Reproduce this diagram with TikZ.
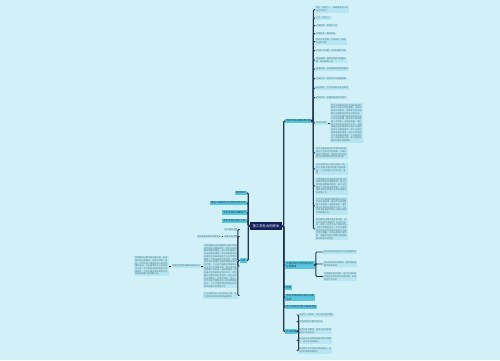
\documentclass[tikz,border=0pt]{standalone}
\usepackage{fontspec}
\usepackage{tikz}
\usepackage{xcolor}
\newfontfamily\cjk{Noto Sans CJK SC}
\XeTeXlinebreaklocale "zh"
\XeTeXlinebreakskip=0pt plus 0.2pt
\usetikzlibrary{positioning}
\definecolor{paper}{HTML}{D1F0F8}
\definecolor{leafcyan}{HTML}{B6E6F1}
\definecolor{branchcyan}{HTML}{58C6DD}
\definecolor{rootnavy}{HTML}{14235C}
\definecolor{linknavy}{HTML}{24344F}
\definecolor{ink}{HTML}{1D3550}
\definecolor{inkgray}{HTML}{56707E}
% long clauses used in the text boxes
\newcommand{\txtpay}{甲方应按照合同约定的时间和标准向乙方支付劳务报酬，不得无故拖欠或克扣，逾期支付的应按银行同期贷款利率支付违约金。}
\newcommand{\txtsafe}{乙方应严格遵守国家有关安全生产的法律法规，服从甲方现场管理人员的统一安排和指挥，做好施工现场的安全防护工作。}
\newcommand{\txtqual}{工程质量应符合国家现行施工验收规范及设计图纸要求，因乙方原因造成质量问题的，由乙方负责返工并承担相应费用。}
\newcommand{\txtdisp}{合同履行过程中发生争议的，双方应友好协商解决；协商不成的，任何一方均可向工程所在地人民法院提起诉讼。}
\newcommand{\txtstaff}{乙方进场作业人员应持证上岗，并为其购买相应的意外伤害保险。}
\newcommand{\txtsub}{乙方不得将承接的劳务作业转包或再分包给第三方。}
\tikzset{
  rootcard/.style={fill=rootnavy,text=white,inner sep=1.2pt,
                   minimum width=18pt,minimum height=4pt,
                   font=\cjk\fontsize{1.9}{2.3}\selectfont},
  branchcard/.style={fill=branchcyan,text=ink,inner sep=0.6pt,align=left,
                     font=\cjk\fontsize{1.4}{1.8}\selectfont},
  leafcard/.style={fill=leafcyan,text=inkgray,inner sep=0.5pt,align=left,
                   font=\cjk\fontsize{1.2}{1.55}\selectfont},
  textcard/.style={leafcard,text width=17.7pt},
  widecard/.style={leafcard,text width=18.8pt},
  link/.style={draw=linknavy,line width=0.55pt,rounded corners=0.6pt},
  mainlink/.style={draw=linknavy,line width=0.75pt,rounded corners=0.6pt}
}
\begin{document}
\begin{tikzpicture}[x=0.02cm,y=-0.02cm]
  \fill[paper] (0,0) rectangle (500,360);
  \path[use as bounding box] (0,0) rectangle (500,360);
  % root
  \node[rootcard] (root) at (266,226) {施工劳务合同样本};
  % right branches
  \node[branchcard,anchor=west] (r1) at (285,121) {劳务合同主要条款内容};
  \node[branchcard,anchor=west] (r2) at (285,265) {工程劳务分包合同的签订\\注意事项};
  \node[branchcard,anchor=west] (r3) at (285,287.5) {附则};
  \node[branchcard,anchor=west] (r4) at (285,297.5) {劳务合同纠纷的常见处理\\方式};
  \node[branchcard,anchor=west] (r5) at (285,307) {施工劳务合同签订备案流程};
  \node[branchcard,anchor=west] (r6) at (285,331.5) {补充条款};
  \foreach \n in {1,...,6}
    \draw[mainlink] (root.east) -- ++(1.5,0) |- (r\n.west);
  % left branches
  \node[branchcard,anchor=east] (l1) at (247,193) {合同范本};
  \node[branchcard,anchor=east] (l2) at (247,203) {建设工程劳务分包合同示范文本};
  \node[branchcard,anchor=east] (l3) at (247,212.5) {劳务合同的法律效力};
  \node[branchcard,anchor=east] (l4) at (247,221) {劳务合同的签订主体};
  \node[branchcard,anchor=east] (l5) at (247,260.5) {注意};
  \foreach \n in {1,...,5}
    \draw[mainlink] (root.west) -- ++(-1.5,0) |- (l\n.east);
  % main clauses
  \node[leafcard,anchor=west] (c1) at (315,9.5) {甲方（发包人）：某建设有限公司\\法定代表人：};
  \node[leafcard,anchor=west] (c2) at (315,18) {乙方（承包人）};
  \node[leafcard,anchor=west] (c3) at (315,25.5) {工程名称：某住宅小区};
  \node[leafcard,anchor=west] (c4) at (315,33.5) {工程地点：某市某区};
  \node[leafcard,anchor=west] (c5) at (315,41.5) {劳务作业范围：主体结构、砌筑\\及抹灰工程};
  \node[leafcard,anchor=west] (c6) at (315,50.5) {计划开工日期：以甲方通知为准};
  \node[leafcard,anchor=west] (c7) at (315,60) {劳务报酬：按实际完成工程量计\\算，每月结算一次};
  \node[leafcard,anchor=west] (c8) at (315,69) {质量标准：符合国家验收规范要求};
  \node[leafcard,anchor=west] (c9) at (315,78.5) {付款方式：按月支付工程进度款};
  \node[leafcard,anchor=west] (c10) at (315,88) {安全责任：乙方承担施工安全责任};
  \node[leafcard,anchor=west] (c11) at (315,97.5) {材料供应：主要材料由甲方提供};
  \node[leafcard,anchor=west] (c12) at (315,123) {双方的责任};
  \node[textcard,anchor=west] (c12box) at (330,123) {\txtpay\txtsafe\txtqual\txtstaff};
  \node[textcard,anchor=west] (c13) at (315,153) {\txtpay};
  \node[textcard,anchor=west] (c14) at (315,169) {\txtstaff 乙方应服从甲方的统一管理。};
  \node[textcard,anchor=west] (c15) at (315,186) {\txtqual\txtsub};
  \node[textcard,anchor=west] (c16) at (315,206) {\txtsafe\txtsub};
  \node[textcard,anchor=west] (c17) at (315,229) {\txtdisp\txtpay};
  \foreach \n in {1,...,17}
    \draw[link] (r1.east) -- ++(1,0) |- (c\n.west);
  \draw[link] (c12.east) -- (c12box.west);
  % signing notes
  \node[leafcard,anchor=west] (d1) at (323,252) {签订合同前应核实对方的资质情况};
  \node[leafcard,anchor=west,text width=18.3pt] (d2) at (323,264) {合同条款应约定明确，避免使用含糊不清的表述。};
  \node[leafcard,anchor=west,text width=18.3pt] (d3) at (323,276.5) {工程款的支付时间、支付方式及违约责任应在合同中详细列明，以免日后产生纠纷。};
  \foreach \n in {1,...,3}
    \draw[link] (r2.east) -- ++(1,0) |- (d\n.west);
  % supplementary terms
  \node[leafcard,anchor=west] (e1) at (298,315) {本合同一式四份，甲乙双方各执两份};
  \node[leafcard,anchor=west] (e2) at (298,321.5) {本合同经双方签字后生效};
  \node[leafcard,anchor=west,text width=18.3pt] (e3) at (298,331) {本合同未尽事宜，由双方另行协商并签订补充协议。};
  \node[leafcard,anchor=west,text width=18.3pt] (e4) at (298,340.5) {补充协议与本合同具有同等法律效力，双方应共同遵守。};
  \node[leafcard,anchor=west,text width=18.3pt] (e5) at (298,350.5) {合同附件为本合同的组成部分，与本合同具有同等效力。};
  \foreach \n in {1,...,5}
    \draw[link] (r6.east) -- ++(1,0) |- (e\n.west);
  % notes on the left
  \node[leafcard,anchor=east] (m1) at (238.5,229.5) {签订前应注意};
  \node[leafcard,anchor=east] (m2) at (238.5,236.5) {审查对方资质};
  \node[leafcard,anchor=east] (m2a) at (222,236.5) {营业执照及劳务资质证书};
  \node[widecard,anchor=east] (m3) at (238.5,266) {\txtqual\txtpay\txtsafe\txtdisp\txtsub};
  \node[leafcard,left=1.1pt of m3] (m3a) {明确约定劳务报酬的结算方式};
  \node[widecard,left=1.1pt of m3a] (m3b) {\txtdisp\txtstaff\txtsub};
  \node[widecard,anchor=east] (m4) at (238.5,295.5) {\txtstaff};
  \foreach \n in {1,...,4}
    \draw[link] (l5.west) -- ++(-1.5,0) |- (m\n.east);
  \draw[link] (m2.west) -- (m2a.east);
  \draw[link] (m3.west) -- (m3a.east);
  \draw[link] (m3a.west) -- (m3b.east);
\end{tikzpicture}
\end{document}
